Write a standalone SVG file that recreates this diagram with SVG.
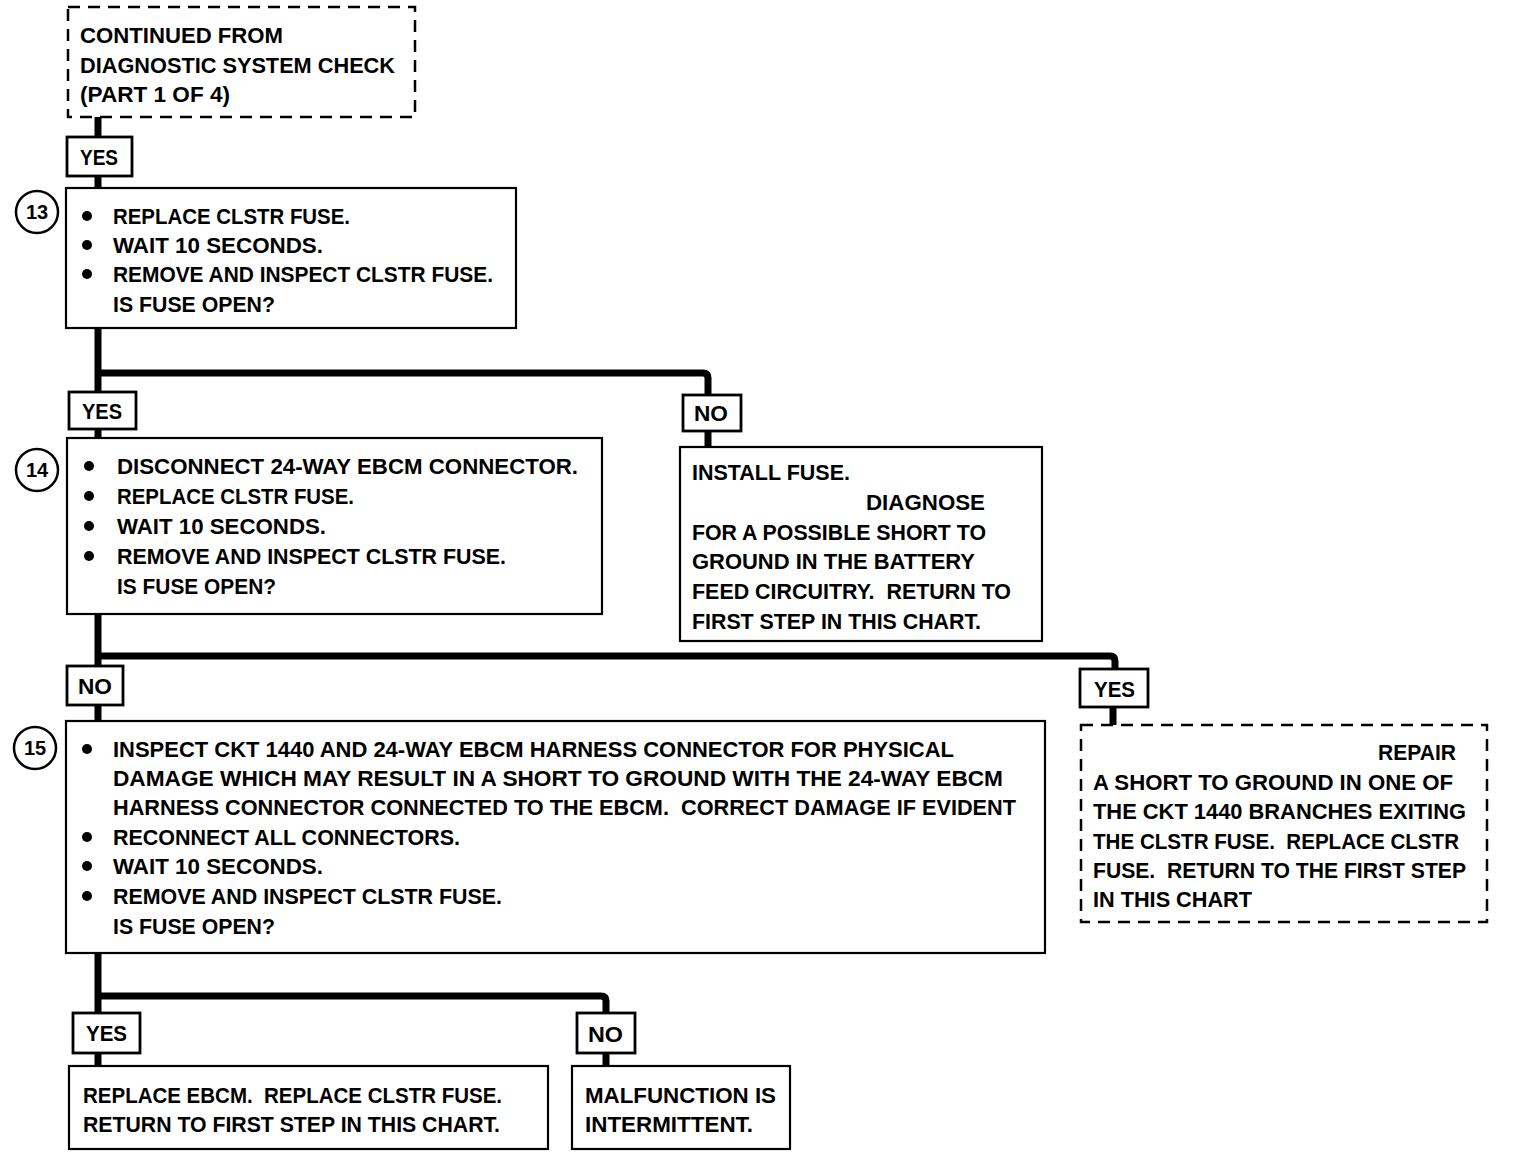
<svg xmlns="http://www.w3.org/2000/svg" width="1520" height="1158" viewBox="0 0 1520 1158">
<style>
text{font-family:"Liberation Sans",Arial,sans-serif;font-weight:bold;font-size:22px;fill:#000;white-space:pre}
.box{fill:#fff;stroke:#000;stroke-width:2.2}
.dash{fill:#fff;stroke:#000;stroke-width:2.5;stroke-dasharray:12 8}
.lbl{fill:#fff;stroke:#000;stroke-width:2.8}
.num{fill:#fff;stroke:#000;stroke-width:2.5}
.conn{fill:none;stroke:#000;stroke-width:7}
.num-t{font-size:20px;text-anchor:middle}
</style>
<defs>
<circle id="bul" r="5" fill="#000"/>
</defs>
<rect width="1520" height="1158" fill="#fff"/>

<g id="connectors">
<path class="conn" d="M98,117 V137 M98,176 V188"/>
<path class="conn" d="M98,328 V392 M98,373 H703 Q708,373 708,378 V395 M98,429 V438 M708,431 V447"/>
<path class="conn" d="M98,614 V666 M98,656 H1110 Q1115,656 1115,661 V669 M98,705 V721 M1113,707 V725"/>
<path class="conn" d="M98,953 V1013 M98,996 H601 Q606,996 606,1001 V1013 M98,1053 V1066 M606,1053 V1066"/>
</g>

<g id="start">
<rect class="dash" x="68" y="7" width="347" height="110"/>
<text x="80" y="43" textLength="203" lengthAdjust="spacingAndGlyphs">CONTINUED FROM</text>
<text x="80" y="73" textLength="315" lengthAdjust="spacingAndGlyphs">DIAGNOSTIC SYSTEM CHECK</text>
<text x="80" y="102" textLength="150" lengthAdjust="spacingAndGlyphs">(PART 1 OF 4)</text>
</g>

<g id="yes1">
<rect class="lbl" x="67" y="137" width="65" height="39"/>
<text x="80" y="165" textLength="38" lengthAdjust="spacingAndGlyphs">YES</text>
</g>

<g id="step13">
<rect class="box" x="66" y="188" width="450" height="140"/>
<circle class="num" cx="37" cy="212" r="21"/>
<text class="num-t" x="37" y="219">13</text>
<use href="#bul" x="87" y="216"/>
<use href="#bul" x="87" y="245"/>
<use href="#bul" x="87" y="274"/>
<text x="113" y="224" textLength="237" lengthAdjust="spacingAndGlyphs">REPLACE CLSTR FUSE.</text>
<text x="113" y="253" textLength="210" lengthAdjust="spacingAndGlyphs">WAIT 10 SECONDS.</text>
<text x="113" y="282" textLength="380" lengthAdjust="spacingAndGlyphs">REMOVE AND INSPECT CLSTR FUSE.</text>
<text x="113" y="312" textLength="162" lengthAdjust="spacingAndGlyphs">IS FUSE OPEN?</text>
</g>

<g id="yes2">
<rect class="lbl" x="69" y="392" width="67" height="37"/>
<text x="82" y="419" textLength="40" lengthAdjust="spacingAndGlyphs">YES</text>
</g>

<g id="no1">
<rect class="lbl" x="683" y="395" width="58" height="36"/>
<text x="694" y="421" textLength="34" lengthAdjust="spacingAndGlyphs">NO</text>
</g>

<g id="step14">
<rect class="box" x="67" y="438" width="535" height="176"/>
<circle class="num" cx="37" cy="470" r="21"/>
<text class="num-t" x="37" y="477">14</text>
<use href="#bul" x="89" y="466"/>
<use href="#bul" x="89" y="496"/>
<use href="#bul" x="89" y="526"/>
<use href="#bul" x="89" y="556"/>
<text x="117" y="474" textLength="461" lengthAdjust="spacingAndGlyphs">DISCONNECT 24-WAY EBCM CONNECTOR.</text>
<text x="117" y="504" textLength="237" lengthAdjust="spacingAndGlyphs">REPLACE CLSTR FUSE.</text>
<text x="117" y="534" textLength="209" lengthAdjust="spacingAndGlyphs">WAIT 10 SECONDS.</text>
<text x="117" y="564" textLength="389" lengthAdjust="spacingAndGlyphs">REMOVE AND INSPECT CLSTR FUSE.</text>
<text x="117" y="594" textLength="159" lengthAdjust="spacingAndGlyphs">IS FUSE OPEN?</text>
</g>

<g id="install-fuse">
<rect class="box" x="680" y="447" width="362" height="194"/>
<text x="692" y="480" textLength="158" lengthAdjust="spacingAndGlyphs">INSTALL FUSE.</text>
<text x="866" y="510" textLength="119" lengthAdjust="spacingAndGlyphs">DIAGNOSE</text>
<text x="692" y="540" textLength="294" lengthAdjust="spacingAndGlyphs">FOR A POSSIBLE SHORT TO</text>
<text x="692" y="569" textLength="283" lengthAdjust="spacingAndGlyphs">GROUND IN THE BATTERY</text>
<text x="692" y="599" textLength="319" lengthAdjust="spacingAndGlyphs">FEED CIRCUITRY.  RETURN TO</text>
<text x="692" y="629" textLength="289" lengthAdjust="spacingAndGlyphs">FIRST STEP IN THIS CHART.</text>
</g>

<g id="no2">
<rect class="lbl" x="67" y="666" width="56" height="39"/>
<text x="78" y="694" textLength="34" lengthAdjust="spacingAndGlyphs">NO</text>
</g>

<g id="yes3">
<rect class="lbl" x="1080" y="669" width="68" height="38"/>
<text x="1094" y="697" textLength="41" lengthAdjust="spacingAndGlyphs">YES</text>
</g>

<g id="step15">
<rect class="box" x="66" y="721" width="979" height="232"/>
<circle class="num" cx="35" cy="748" r="21"/>
<text class="num-t" x="35" y="755">15</text>
<use href="#bul" x="87" y="749"/>
<use href="#bul" x="87" y="837"/>
<use href="#bul" x="87" y="866"/>
<use href="#bul" x="87" y="896"/>
<text x="113" y="757" textLength="841" lengthAdjust="spacingAndGlyphs">INSPECT CKT 1440 AND 24-WAY EBCM HARNESS CONNECTOR FOR PHYSICAL</text>
<text x="113" y="786" textLength="890" lengthAdjust="spacingAndGlyphs">DAMAGE WHICH MAY RESULT IN A SHORT TO GROUND WITH THE 24-WAY EBCM</text>
<text x="113" y="815" textLength="903" lengthAdjust="spacingAndGlyphs">HARNESS CONNECTOR CONNECTED TO THE EBCM.  CORRECT DAMAGE IF EVIDENT</text>
<text x="113" y="845" textLength="347" lengthAdjust="spacingAndGlyphs">RECONNECT ALL CONNECTORS.</text>
<text x="113" y="874" textLength="210" lengthAdjust="spacingAndGlyphs">WAIT 10 SECONDS.</text>
<text x="113" y="904" textLength="389" lengthAdjust="spacingAndGlyphs">REMOVE AND INSPECT CLSTR FUSE.</text>
<text x="113" y="934" textLength="162" lengthAdjust="spacingAndGlyphs">IS FUSE OPEN?</text>
</g>

<g id="repair">
<rect class="dash" x="1081" y="725" width="406" height="197"/>
<text x="1378" y="760" textLength="78" lengthAdjust="spacingAndGlyphs">REPAIR</text>
<text x="1093" y="790" textLength="360" lengthAdjust="spacingAndGlyphs">A SHORT TO GROUND IN ONE OF</text>
<text x="1093" y="819" textLength="373" lengthAdjust="spacingAndGlyphs">THE CKT 1440 BRANCHES EXITING</text>
<text x="1093" y="849" textLength="366" lengthAdjust="spacingAndGlyphs">THE CLSTR FUSE.  REPLACE CLSTR</text>
<text x="1093" y="878" textLength="373" lengthAdjust="spacingAndGlyphs">FUSE.  RETURN TO THE FIRST STEP</text>
<text x="1093" y="907" textLength="159" lengthAdjust="spacingAndGlyphs">IN THIS CHART</text>
</g>

<g id="yes4">
<rect class="lbl" x="73" y="1013" width="67" height="40"/>
<text x="86" y="1041" textLength="41" lengthAdjust="spacingAndGlyphs">YES</text>
</g>

<g id="no3">
<rect class="lbl" x="577" y="1013" width="58" height="40"/>
<text x="588" y="1042" textLength="35" lengthAdjust="spacingAndGlyphs">NO</text>
</g>

<g id="replace-ebcm">
<rect class="box" x="69" y="1066" width="479" height="83"/>
<text x="83" y="1103" textLength="419" lengthAdjust="spacingAndGlyphs">REPLACE EBCM.  REPLACE CLSTR FUSE.</text>
<text x="83" y="1132" textLength="417" lengthAdjust="spacingAndGlyphs">RETURN TO FIRST STEP IN THIS CHART.</text>
</g>

<g id="intermittent">
<rect class="box" x="572" y="1066" width="218" height="83"/>
<text x="585" y="1103" textLength="191" lengthAdjust="spacingAndGlyphs">MALFUNCTION IS</text>
<text x="585" y="1132" textLength="168" lengthAdjust="spacingAndGlyphs">INTERMITTENT.</text>
</g>
</svg>
